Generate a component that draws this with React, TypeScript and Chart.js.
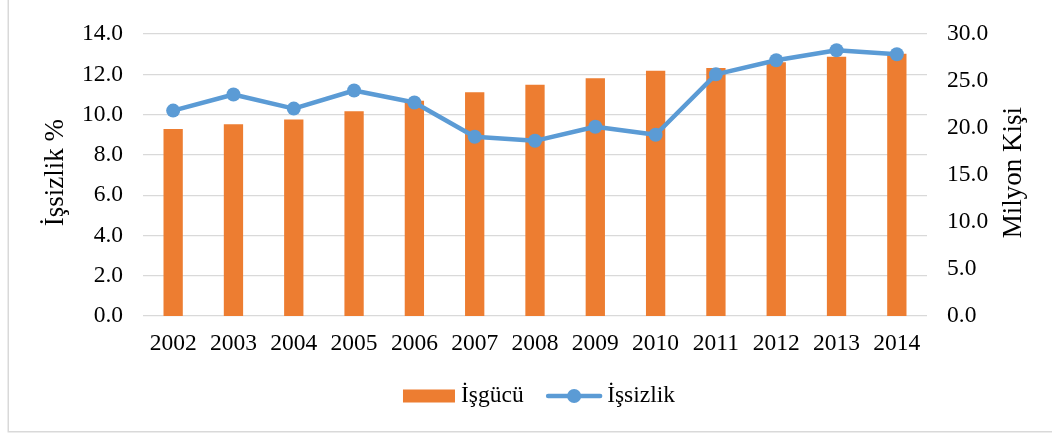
import React, { useEffect, useRef } from "react";
import { Chart, registerables } from "chart.js";

Chart.register(...registerables);

const years = ["2002", "2003", "2004", "2005", "2006", "2007", "2008", "2009", "2010", "2011", "2012", "2013", "2014"];
const isgucuValues = [19.9, 20.4, 20.9, 21.8, 22.9, 23.8, 24.6, 25.3, 26.1, 26.4, 27.0, 27.6, 27.9];
const issizlikValues = [10.2, 11.0, 10.3, 11.2, 10.6, 8.9, 8.7, 9.4, 9.0, 12.0, 12.7, 13.2, 13.0];
const seriesLabels = ["İşgücü", "İşsizlik"];
const leftAxis = { min: 0, max: 14, step: 2, title: "İşsizlik %" };
const rightAxis = { min: 0, max: 30, step: 5, title: "Milyon Kişi" };

const FONT = "'Liberation Serif', 'Times New Roman', serif";
const FSIZE = 23.5;
const TSIZE = 27;
const ORANGE = "#ED7D31";
const BLUE = "#5B9BD5";
const GRID = "#D9D9D9";

const frameLegendPlugin = {
  id: "frameLegend",
  afterDraw(chart: any) {
    const ctx = chart.ctx as CanvasRenderingContext2D;
    ctx.save();
    // chart frame
    ctx.strokeStyle = GRID;
    ctx.lineWidth = 1.5;
    ctx.beginPath();
    ctx.moveTo(8.25, -5);
    ctx.lineTo(8.25, 431.75);
    ctx.lineTo(1060, 431.75);
    ctx.stroke();

    // axis titles (both read bottom-to-top)
    const area = chart.chartArea;
    const cyTitle = (area.top + area.bottom) / 2 - 2.5;
    ctx.font = `${TSIZE}px ${FONT}`;
    ctx.fillStyle = "#000";
    ctx.textAlign = "center";
    ctx.textBaseline = "alphabetic";
    const titles = [
      { text: leftAxis.title, x: 63 },
      { text: rightAxis.title, x: 1021 },
    ];
    for (const t of titles) {
      ctx.save();
      ctx.translate(t.x, cyTitle);
      ctx.rotate(-Math.PI / 2);
      ctx.fillText(t.text, 0, 0);
      ctx.restore();
    }

    // legend
    ctx.font = `${FSIZE}px ${FONT}`;
    ctx.textBaseline = "middle";
    ctx.textAlign = "left";
    const items = chart.data.datasets.map((d: any) => {
      const isBar = (d.type || chart.config.type) === "bar";
      const sym = isBar ? 52 : 56;
      const gap = isBar ? 6 : 5;
      const tw = ctx.measureText(d.label).width;
      return { d, isBar, sym, gap, tw, w: sym + gap + tw };
    });
    const between = 22.5;
    const total = items.reduce((s: number, it: any) => s + it.w, 0) + between * (items.length - 1);
    const cx = 539;
    const cy = 396;
    let x = cx - total / 2;
    for (const it of items) {
      if (it.isBar) {
        ctx.fillStyle = it.d.backgroundColor;
        ctx.fillRect(x, cy - 6.5, it.sym, 13);
      } else {
        ctx.strokeStyle = it.d.borderColor;
        ctx.lineWidth = it.d.borderWidth;
        ctx.lineCap = "round";
        ctx.beginPath();
        ctx.moveTo(x + 2, cy);
        ctx.lineTo(x + it.sym - 2, cy);
        ctx.stroke();
        ctx.fillStyle = it.d.pointBackgroundColor;
        ctx.beginPath();
        ctx.arc(x + it.sym / 2, cy, it.d.pointRadius, 0, Math.PI * 2);
        ctx.fill();
      }
      ctx.fillStyle = "#000";
      ctx.fillText(it.d.label, x + it.sym + it.gap, cy);
      x += it.w + between;
    }
    ctx.restore();
  },
};

export default function App() {
  const ref = useRef<HTMLCanvasElement | null>(null);

  useEffect(() => {
    if (!ref.current) return;
    const font = { family: FONT, size: FSIZE };
    const chart = new Chart(ref.current, {
      type: "bar",
      data: {
        labels: years,
        datasets: [
          {
            type: "bar",
            label: seriesLabels[0],
            data: isgucuValues,
            backgroundColor: ORANGE,
            borderWidth: 0,
            yAxisID: "y1",
            barPercentage: 0.32,
            categoryPercentage: 1,
            order: 1,
          },
          {
            type: "line",
            label: seriesLabels[1],
            data: issizlikValues,
            borderColor: BLUE,
            backgroundColor: BLUE,
            borderWidth: 4.5,
            borderJoinStyle: "round",
            borderCapStyle: "round",
            pointRadius: 7,
            pointBackgroundColor: BLUE,
            pointBorderColor: BLUE,
            pointBorderWidth: 0,
            tension: 0,
            yAxisID: "y",
            order: 0,
          } as any,
        ],
      },
      options: {
        responsive: false,
        animation: false,
        devicePixelRatio: 1,
        layout: { padding: { top: 27, left: 0, right: 0, bottom: 0 } },
        plugins: {
          legend: { display: false },
          tooltip: { enabled: false },
          title: { display: false },
        },
        scales: {
          x: {
            offset: true,
            grid: { display: false, drawTicks: false },
            border: { display: false },
            ticks: { font, color: "#000", padding: 14, maxRotation: 0, autoSkip: false },
            afterFit: (s: any) => {
              s.height = 120;
            },
          },
          y: {
            position: "left",
            min: leftAxis.min,
            max: leftAxis.max,
            grid: { color: GRID, lineWidth: 1.3, drawTicks: false },
            border: { display: false },
            ticks: {
              stepSize: leftAxis.step,
              font,
              color: "#000",
              padding: 20,
              callback: (v: any) => Number(v).toFixed(1),
            },
            afterFit: (s: any) => {
              s.width = 143;
            },
          },
          y1: {
            position: "right",
            min: rightAxis.min,
            max: rightAxis.max,
            grid: { display: false, drawTicks: false },
            border: { display: false },
            ticks: {
              stepSize: rightAxis.step,
              font,
              color: "#000",
              padding: 20,
              callback: (v: any) => Number(v).toFixed(1),
            },
            afterFit: (s: any) => {
              s.width = 125;
            },
          },
        },
      },
      plugins: [frameLegendPlugin],
    } as any);
    return () => chart.destroy();
  }, []);

  return (
    <canvas
      ref={ref}
      width={1052}
      height={436}
      style={{ position: "fixed", left: 0, top: 0, width: 1052, height: 436, display: "block", background: "#fff" }}
    />
  );
}
